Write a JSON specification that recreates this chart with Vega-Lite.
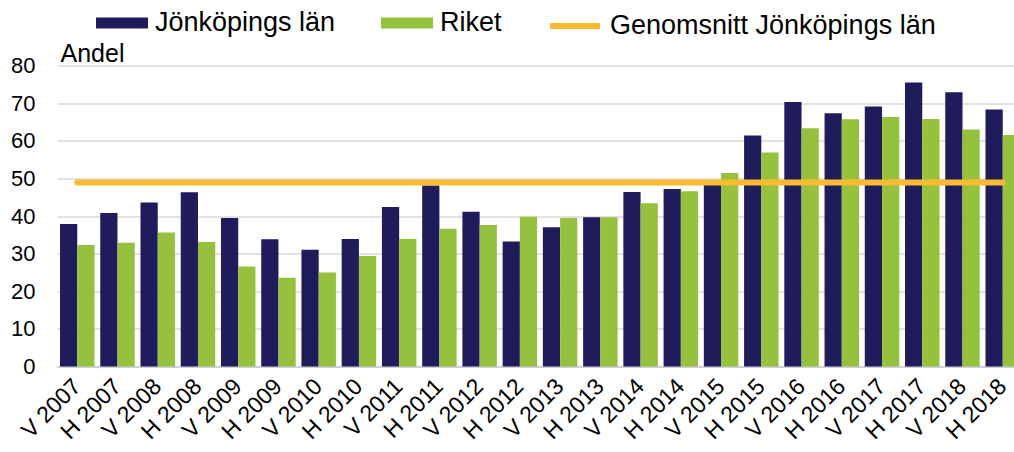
{
  "$schema": "https://vega.github.io/schema/vega-lite/v6.json",
  "autosize": "none",
  "width": 957,
  "height": 301,
  "padding": {"left": 57, "top": 65.5, "right": 0, "bottom": 85.5},
  "background": "white",
  "config": {
    "view": {"stroke": null},
    "font": "Liberation Sans",
    "axis": {"labelFont": "Liberation Sans", "titleFont": "Liberation Sans", "labelColor": "black", "titleColor": "black"},
    "legend": {"labelFont": "Liberation Sans", "labelColor": "black", "padding": 0}
  },
  "datasets": {
    "bars": [
      {"period": "V 2007", "serie": "Jönköpings län", "value": 37.9},
      {"period": "V 2007", "serie": "Riket", "value": 32.3},
      {"period": "H 2007", "serie": "Jönköpings län", "value": 40.8},
      {"period": "H 2007", "serie": "Riket", "value": 32.9},
      {"period": "V 2008", "serie": "Jönköpings län", "value": 43.6},
      {"period": "V 2008", "serie": "Riket", "value": 35.6},
      {"period": "H 2008", "serie": "Jönköpings län", "value": 46.3},
      {"period": "H 2008", "serie": "Riket", "value": 33.1},
      {"period": "V 2009", "serie": "Jönköpings län", "value": 39.5},
      {"period": "V 2009", "serie": "Riket", "value": 26.6},
      {"period": "H 2009", "serie": "Jönköpings län", "value": 33.8},
      {"period": "H 2009", "serie": "Riket", "value": 23.6},
      {"period": "V 2010", "serie": "Jönköpings län", "value": 31.0},
      {"period": "V 2010", "serie": "Riket", "value": 25.0},
      {"period": "H 2010", "serie": "Jönköpings län", "value": 33.9},
      {"period": "H 2010", "serie": "Riket", "value": 29.4},
      {"period": "V 2011", "serie": "Jönköpings län", "value": 42.4},
      {"period": "V 2011", "serie": "Riket", "value": 33.9},
      {"period": "H 2011", "serie": "Jönköpings län", "value": 48.1},
      {"period": "H 2011", "serie": "Riket", "value": 36.6},
      {"period": "V 2012", "serie": "Jönköpings län", "value": 41.1},
      {"period": "V 2012", "serie": "Riket", "value": 37.6},
      {"period": "H 2012", "serie": "Jönköpings län", "value": 33.2},
      {"period": "H 2012", "serie": "Riket", "value": 39.8},
      {"period": "V 2013", "serie": "Jönköpings län", "value": 37.0},
      {"period": "V 2013", "serie": "Riket", "value": 39.5},
      {"period": "H 2013", "serie": "Jönköpings län", "value": 39.7},
      {"period": "H 2013", "serie": "Riket", "value": 39.7},
      {"period": "V 2014", "serie": "Jönköpings län", "value": 46.4},
      {"period": "V 2014", "serie": "Riket", "value": 43.4},
      {"period": "H 2014", "serie": "Jönköpings län", "value": 47.2},
      {"period": "H 2014", "serie": "Riket", "value": 46.6},
      {"period": "V 2015", "serie": "Jönköpings län", "value": 48.7},
      {"period": "V 2015", "serie": "Riket", "value": 51.4},
      {"period": "H 2015", "serie": "Jönköpings län", "value": 61.4},
      {"period": "H 2015", "serie": "Riket", "value": 56.9},
      {"period": "V 2016", "serie": "Jönköpings län", "value": 70.3},
      {"period": "V 2016", "serie": "Riket", "value": 63.3},
      {"period": "H 2016", "serie": "Jönköpings län", "value": 67.3},
      {"period": "H 2016", "serie": "Riket", "value": 65.7},
      {"period": "V 2017", "serie": "Jönköpings län", "value": 69.1},
      {"period": "V 2017", "serie": "Riket", "value": 66.3},
      {"period": "H 2017", "serie": "Jönköpings län", "value": 75.5},
      {"period": "H 2017", "serie": "Riket", "value": 65.8},
      {"period": "V 2018", "serie": "Jönköpings län", "value": 72.9},
      {"period": "V 2018", "serie": "Riket", "value": 63.0},
      {"period": "H 2018", "serie": "Jönköpings län", "value": 68.3},
      {"period": "H 2018", "serie": "Riket", "value": 61.5}
    ],
    "snitt": [
      {"period": "V 2007", "serie": "Genomsnitt Jönköpings län", "value": 48.9},
      {"period": "H 2007", "serie": "Genomsnitt Jönköpings län", "value": 48.9},
      {"period": "V 2008", "serie": "Genomsnitt Jönköpings län", "value": 48.9},
      {"period": "H 2008", "serie": "Genomsnitt Jönköpings län", "value": 48.9},
      {"period": "V 2009", "serie": "Genomsnitt Jönköpings län", "value": 48.9},
      {"period": "H 2009", "serie": "Genomsnitt Jönköpings län", "value": 48.9},
      {"period": "V 2010", "serie": "Genomsnitt Jönköpings län", "value": 48.9},
      {"period": "H 2010", "serie": "Genomsnitt Jönköpings län", "value": 48.9},
      {"period": "V 2011", "serie": "Genomsnitt Jönköpings län", "value": 48.9},
      {"period": "H 2011", "serie": "Genomsnitt Jönköpings län", "value": 48.9},
      {"period": "V 2012", "serie": "Genomsnitt Jönköpings län", "value": 48.9},
      {"period": "H 2012", "serie": "Genomsnitt Jönköpings län", "value": 48.9},
      {"period": "V 2013", "serie": "Genomsnitt Jönköpings län", "value": 48.9},
      {"period": "H 2013", "serie": "Genomsnitt Jönköpings län", "value": 48.9},
      {"period": "V 2014", "serie": "Genomsnitt Jönköpings län", "value": 48.9},
      {"period": "H 2014", "serie": "Genomsnitt Jönköpings län", "value": 48.9},
      {"period": "V 2015", "serie": "Genomsnitt Jönköpings län", "value": 48.9},
      {"period": "H 2015", "serie": "Genomsnitt Jönköpings län", "value": 48.9},
      {"period": "V 2016", "serie": "Genomsnitt Jönköpings län", "value": 48.9},
      {"period": "H 2016", "serie": "Genomsnitt Jönköpings län", "value": 48.9},
      {"period": "V 2017", "serie": "Genomsnitt Jönköpings län", "value": 48.9},
      {"period": "H 2017", "serie": "Genomsnitt Jönköpings län", "value": 48.9},
      {"period": "V 2018", "serie": "Genomsnitt Jönköpings län", "value": 48.9},
      {"period": "H 2018", "serie": "Genomsnitt Jönköpings län", "value": 48.9}
    ]
  },
  "encoding": {
    "x": {
      "field": "period",
      "type": "nominal",
      "sort": null,
      "scale": {"paddingInner": 0.143, "paddingOuter": 0.075, "range": [0, 966]},
      "axis": {
        "title": null,
        "labelAngle": -45,
        "labelAlign": "right",
        "labelBaseline": "middle",
        "labelFontSize": 23,
        "labelPadding": 16,
        "ticks": false,
        "grid": false,
        "domain": true,
        "domainColor": "#d0d0d8",
        "domainWidth": 2,
        "labelOverlap": false
      }
    },
    "y": {
      "field": "value",
      "type": "quantitative",
      "scale": {"domain": [0, 80], "nice": false},
      "axis": {
        "title": "Andel",
        "titleAngle": 0,
        "titleAlign": "left",
        "titleBaseline": "alphabetic",
        "titleX": 3,
        "titleY": -4.5,
        "titleFontSize": 25,
        "titleFontWeight": "normal",
        "values": [0, 10, 20, 30, 40, 50, 60, 70, 80],
        "labelFontSize": 22,
        "labelPadding": 22,
        "ticks": false,
        "domain": false,
        "grid": true,
        "gridColor": "#d9d9d9",
        "gridWidth": 1.5
      }
    }
  },
  "layer": [
    {
      "data": {"name": "bars"},
      "mark": {"type": "bar"},
      "encoding": {
        "xOffset": {"field": "serie", "type": "nominal", "sort": ["Jönköpings län", "Riket"], "scale": {"paddingInner": 0, "paddingOuter": 0}},
        "fill": {
          "field": "serie",
          "type": "nominal",
          "scale": {"domain": ["Jönköpings län", "Riket"], "range": ["#201C5C", "#96C13E"]},
          "legend": {
            "title": null,
            "orient": "none",
            "direction": "horizontal",
            "legendX": 39,
            "legendY": -68.5,
            "symbolType": "M-1,-0.21H1V0.21H-1Z",
            "symbolSize": 2704,
            "symbolStrokeWidth": 0,
            "symbolOpacity": 1,
            "labelFontSize": 27,
            "labelOffset": 7,
            "columnPadding": 45,
            "labelLimit": 400
          }
        }
      }
    },
    {
      "data": {"name": "snitt"},
      "mark": {"type": "line", "strokeWidth": 6, "strokeCap": "round"},
      "encoding": {
        "stroke": {
          "field": "serie",
          "type": "nominal",
          "scale": {"domain": ["Genomsnitt Jönköpings län"], "range": ["#FBBA33"]},
          "legend": {
            "title": null,
            "orient": "none",
            "direction": "horizontal",
            "legendX": 490,
            "legendY": -67.5,
            "symbolType": "stroke",
            "symbolSize": 2500,
            "symbolStrokeWidth": 6,
            "labelFontSize": 27,
            "labelOffset": 7,
            "labelLimit": 500
          }
        }
      }
    }
  ]
}
